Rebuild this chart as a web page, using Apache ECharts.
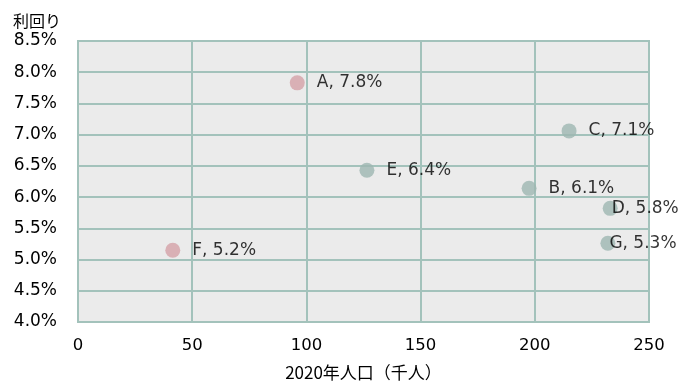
<!DOCTYPE html>
<html><head><meta charset="utf-8">
<script src="https://cdn.jsdelivr.net/npm/echarts@6/dist/echarts.min.js"></script>
<style>html,body{margin:0;padding:0;background:#fff}#c{width:682px;height:383px}</style>
</head><body><div id="c"></div>
<script>
const names = ['A','B','C','D','E','F','G'];
const population = [96, 197.5, 215, 233, 126.5, 41.5, 232];
const yieldPct = [7.83, 6.14, 7.06, 5.82, 6.43, 5.15, 5.26];
const groups = ['pink','teal','teal','teal','teal','pink','teal'];
const xTicks = [0, 50, 100, 150, 200, 250];
const yTicks = [4.0, 4.5, 5.0, 5.5, 6.0, 6.5, 7.0, 7.5, 8.0, 8.5];

const colors = {pink: '#d4a1a8', teal: '#9db7b1'};
const font = '"DejaVu Sans", "Noto Sans CJK JP", sans-serif';
const cjkFont = '"Noto Sans CJK JP", "DejaVu Sans", sans-serif';
const tightRight = {D: true, G: true};

const data = names.map((n, i) => ({
  name: n,
  value: [population[i], yieldPct[i]],
  itemStyle: {color: colors[groups[i]]},
  label: tightRight[n] ? {distance: -6} : {}
}));

const chart = echarts.init(document.getElementById('c'));
chart.setOption({
  animation: false,
  grid: {left: 78, right: 33, top: 41, bottom: 61, outerBoundsMode: 'none', containLabel: false,
    show: true, backgroundColor: '#ebebeb', borderColor: '#a3c2bb', borderWidth: 2},
  xAxis: {
    type: 'value', min: xTicks[0], max: xTicks[xTicks.length - 1], interval: 50,
    name: '2020年人口（千人）', nameLocation: 'middle', nameGap: 42,
    nameTextStyle: {fontFamily: cjkFont, fontSize: 17, color: '#000'},
    axisLine: {show: false}, axisTick: {show: false},
    axisLabel: {fontFamily: font, fontSize: 16.5, color: '#000', margin: 15},
    splitLine: {lineStyle: {color: '#a3c2bb', width: 2}}
  },
  yAxis: {
    type: 'value', min: yTicks[0], max: yTicks[yTicks.length - 1], interval: 0.5,
    name: '利回り', nameLocation: 'end', nameGap: 12,
    nameTextStyle: {fontFamily: cjkFont, fontSize: 16, color: '#000', align: 'left', padding: [0, 0, 0, -65]},
    axisLine: {show: false}, axisTick: {show: false},
    axisLabel: {fontFamily: font, fontSize: 17, color: '#000', margin: 21, formatter: v => v.toFixed(1) + '%'},
    splitLine: {lineStyle: {color: '#a3c2bb', width: 2}}
  },
  series: [{
    type: 'scatter', symbolSize: 15, data: data,
    label: {show: true, position: 'right', distance: 12, fontFamily: font, fontSize: 17, color: '#000',
      formatter: p => p.name + ', ' + p.value[1].toFixed(1) + '%'}
  }]
});
</script></body></html>
